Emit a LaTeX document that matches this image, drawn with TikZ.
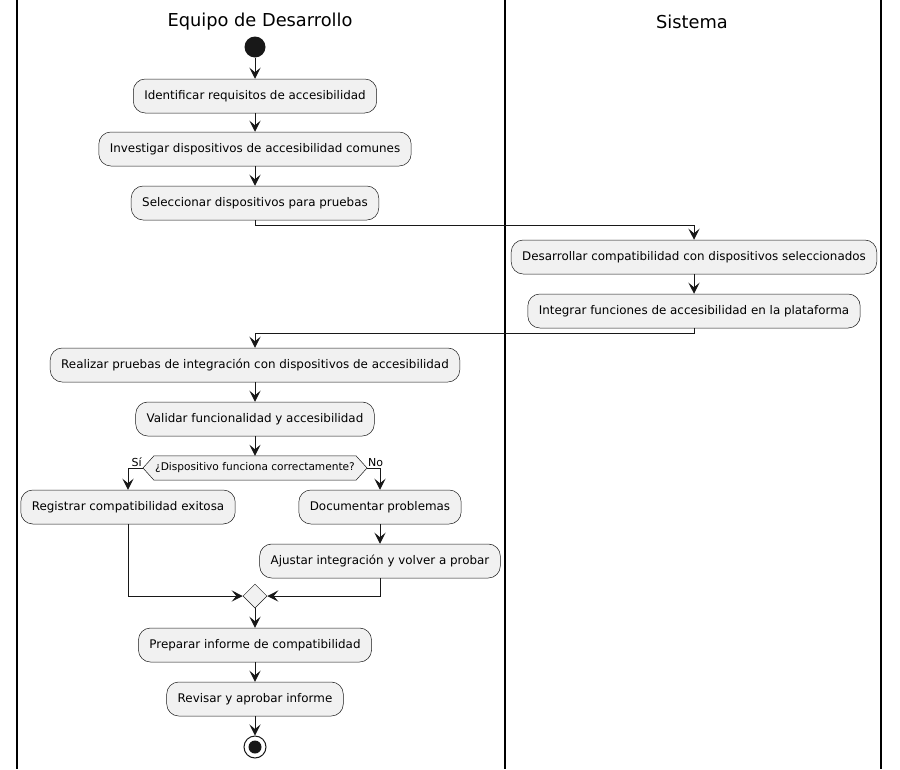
\documentclass[tikz,border=0pt]{standalone}
\usepackage{fontspec}
\setmainfont{DejaVu Sans}
\usetikzlibrary{arrows.meta,shapes.geometric,calc}
\definecolor{boxfill}{HTML}{F1F1F1}
\definecolor{ink}{HTML}{181818}
\begin{document}
\begin{tikzpicture}[x=1pt,y=-1pt,
  act/.style={draw=ink, line width=0.5pt, fill=boxfill, rounded corners=12pt,
    minimum height=34pt, inner xsep=11pt, inner ysep=0pt,
    font=\fontsize{11.9}{14}\selectfont, text=black},
  flow/.style={draw=ink, line width=1pt,
    -{Stealth[length=11pt,width=11pt,inset=4.5pt]}},
  lane/.style={draw=black, line width=1.5pt},
  title/.style={font=\fontsize{17.8}{20}\selectfont, text=black},
  guard/.style={font=\fontsize{11}{13}\selectfont, text=black, inner sep=1pt}]
\useasboundingbox (0,0) rectangle (900,769);
\fill[white] (0,0) rectangle (900,769);

% swimlane borders and headings
\draw[lane] (17,0) -- (17,769);
\draw[lane] (505,0) -- (505,769);
\draw[lane] (881,0) -- (881,769);
\node[title] (laneA) at (260,22) {Equipo de Desarrollo};
\node[title] (laneB) at (692,22) {Sistema};

% start
\node[circle, fill=ink, minimum size=21pt, inner sep=0pt] (start) at (255,47) {};

% activities, development team lane
\node[act] (b1) at (255,96) {Identificar requisitos de accesibilidad};
\node[act] (b2) at (255,149) {Investigar dispositivos de accesibilidad comunes};
\node[act] (b3) at (255,203) {Seleccionar dispositivos para pruebas};

% activities, system lane
\node[act] (b4) at (694,257) {Desarrollar compatibilidad con dispositivos seleccionados};
\node[act] (b5) at (694,311) {Integrar funciones de accesibilidad en la plataforma};

% testing
\node[act] (b6) at (255,365) {Realizar pruebas de integración con dispositivos de accesibilidad};
\node[act] (b7) at (255,419) {Validar funcionalidad y accesibilidad};

% decision
\node[inner xsep=1pt, inner ysep=0pt, minimum height=24pt,
  font=\fontsize{10.6}{13}\selectfont] (dec) at (255,468) {¿Dispositivo funciona correctamente?};
\coordinate (decL) at ($(dec.west)+(-11,0)$);
\coordinate (decR) at ($(dec.east)+(11,0)$);
\draw[draw=ink, line width=0.5pt, fill=boxfill]
  (dec.north west) -- (dec.north east) -- (decR) -- (dec.south east)
  -- (dec.south west) -- (decL) -- cycle;
\node[inner xsep=1pt, inner ysep=0pt, minimum height=24pt,
  font=\fontsize{10.6}{13}\selectfont] at (dec) {¿Dispositivo funciona correctamente?};

\node[act] (b8) at (128,507) {Registrar compatibilidad exitosa};
\node[act] (b9) at (380,507) {Documentar problemas};
\node[act] (b10) at (380,561) {Ajustar integración y volver a probar};

% merge
\node[diamond, draw=ink, line width=0.5pt, fill=boxfill, minimum size=24pt,
  inner sep=0pt, aspect=1] (merge) at (255,596) {};

\node[act] (b11) at (255,645) {Preparar informe de compatibilidad};
\node[act] (b12) at (255,699) {Revisar y aprobar informe};

% end
\node[circle, draw=ink, line width=1pt, fill=white, minimum size=22pt, inner sep=0pt] (stop) at (255,747) {};
\fill[ink] (stop.center) circle (6.5pt);

% connectors
\draw[flow] (start) -- (b1);
\draw[flow] (b1) -- (b2);
\draw[flow] (b2) -- (b3);
\draw[flow] (b3.south) -- ++(0,5) -| (b4.north);
\draw[flow] (b4) -- (b5);
\draw[flow] (b5.south) -- ++(0,5) -| (b6.north);
\draw[flow] (b6) -- (b7);
\draw[flow] (b7) -- (dec.north);
\draw[flow] (decL) -| (b8.north);
\draw[flow] (decR) -| (b9.north);
\node[guard, above left] at (decL) {Sí};
\node[guard, above right] at (decR) {No};
\draw[flow] (b9) -- (b10);
\draw[flow] (b8.south) |- (merge.west);
\draw[flow] (b10.south) |- (merge.east);
\draw[flow] (merge) -- (b11);
\draw[flow] (b11) -- (b12);
\draw[flow] (b12) -- (stop);
\end{tikzpicture}
\end{document}
